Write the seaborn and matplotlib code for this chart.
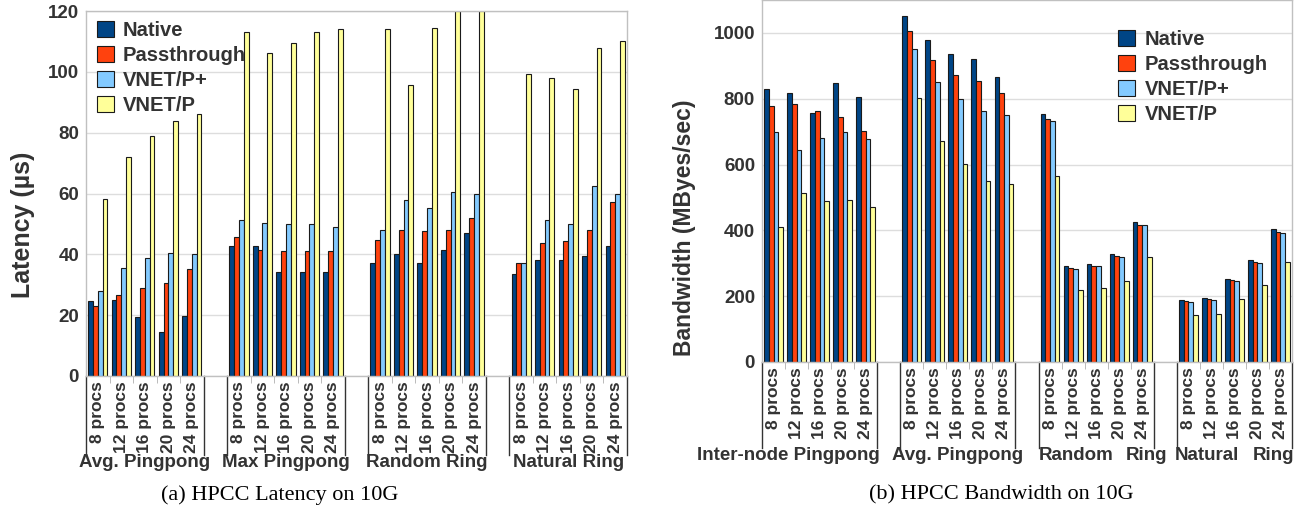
import matplotlib
matplotlib.use("Agg")
import matplotlib.pyplot as plt
import matplotlib.transforms as mtransforms
import seaborn as sns
import pandas as pd

series = ["Native", "Passthrough", "VNET/P+", "VNET/P"]
colors = ["#004586", "#ff420e", "#83caff", "#ffff99"]
procs = ["8 procs", "12 procs", "16 procs", "20 procs", "24 procs"]

# (a) latency, us -- groups of 5 (8..24 procs)
lat_groups = ["Avg. Pingpong", "Max Pingpong", "Random Ring", "Natural Ring"]
lat_native = [24.7, 25.0, 19.3, 14.5, 19.7,
              42.6, 42.6, 34.1, 34.1, 34.1,
              37.0, 40.2, 37.0, 41.5, 47.0,
              33.4, 38.1, 38.1, 39.3, 42.7]
lat_pass = [23.0, 26.7, 28.8, 30.5, 35.1,
            45.6, 41.3, 41.2, 41.2, 41.2,
            44.8, 47.9, 47.7, 47.9, 52.0,
            37.0, 43.6, 44.4, 48.0, 57.2]
lat_vnetp_plus = [28.0, 35.5, 38.7, 40.3, 40.0,
                  51.2, 50.2, 49.9, 50.0, 49.1,
                  48.1, 57.7, 55.1, 60.5, 60.0,
                  37.0, 51.4, 49.9, 62.6, 60.0]
lat_vnetp = [58.2, 72.1, 78.8, 84.0, 86.0,
             113.1, 106.1, 109.4, 113.1, 114.1,
             114.0, 95.8, 114.3, 120.0, 120.0,
             99.4, 97.9, 94.2, 108.0, 110.1]

# (b) bandwidth, MB/s
bw_groups = ["Inter-node Pingpong", "Avg. Pingpong", "Random Ring", "Natural Ring"]
bw_native = [830, 816, 757, 849, 804,
             1052, 977, 937, 920, 866,
             753, 291, 299, 327, 426,
             188, 195, 252, 310, 403]
bw_pass = [777, 783, 763, 743, 703,
           1006, 917, 873, 853, 817,
           739, 286, 292, 321, 417,
           184, 190, 248, 303, 396]
bw_vnetp_plus = [700, 645, 680, 698, 677,
                 950, 850, 800, 762, 750,
                 733, 283, 291, 319, 415,
                 182, 188, 245, 300, 392]
bw_vnetp = [410, 513, 488, 493, 470,
            803, 671, 603, 550, 540,
            564, 218, 224, 245, 319,
            142, 147, 190, 233, 303]

TXT = "#333333"
plt.rcParams["font.family"] = ["Liberation Sans", "DejaVu Sans"]
plt.rcParams["font.weight"] = "bold"


def build(values):
    rows = []
    for s, vals in zip(series, values):
        for k, v in enumerate(vals):
            g, p = divmod(k, 5)
            rows.append({"pos": g * 6 + p, "series": s, "value": v})
    return pd.DataFrame(rows)


def draw(ax, df, groups, ymax, ystep, ylabel, line_depth):
    sns.barplot(data=df, x="pos", y="value", hue="series", hue_order=series,
                palette=colors, native_scale=True, width=0.82, errorbar=None,
                edgecolor="#1a1a1a", linewidth=0.8, saturation=1, ax=ax)
    nslots = len(groups) * 6 - 1
    ax.set_xlim(-0.5, nslots - 0.5)
    ax.set_ylim(0, ymax)
    ax.set_yticks(range(0, int(ymax) + 1, ystep))
    ax.yaxis.grid(True, color="#dddddd", linewidth=1)
    ax.set_axisbelow(True)
    for sp in ax.spines.values():
        sp.set_color("#c0c0c0")
        sp.set_linewidth(1)

    pos = [g * 6 + p for g in range(len(groups)) for p in range(5)]
    ax.set_xticks(pos, procs * len(groups), rotation=90, fontsize=12.5,
                  color=TXT, fontweight="bold")
    ax.set_xticks([i - 0.5 for i in range(nslots + 1)], minor=True)
    ax.tick_params(axis="x", which="major", length=0, pad=4)
    ax.tick_params(axis="x", which="minor", length=5, color="#b0b0b0")
    ax.tick_params(axis="y", length=0, pad=5, labelsize=13.5, labelcolor=TXT)
    for t in ax.get_yticklabels():
        t.set_fontweight("bold")
    ax.set_xlabel("")
    ax.set_ylabel(ylabel, fontsize=18 if ymax < 200 else 16.5,
                  color=TXT, fontweight="bold")

    trans = mtransforms.blended_transform_factory(ax.transData, ax.transAxes)
    for g in range(len(groups)):
        for edge in (g * 6 - 0.5, g * 6 + 4.5):
            ax.plot([edge, edge], [0, -line_depth], color="#333333",
                    linewidth=1, transform=trans, clip_on=False)

    handles, labels = ax.get_legend_handles_labels()
    return trans, handles, labels


fig = plt.figure(figsize=(13.07, 5.16), dpi=100)
ax1 = fig.add_axes([86 / 1307, 1 - 376 / 516, 541 / 1307, 365 / 516])
ax2 = fig.add_axes([762 / 1307, 1 - 362 / 516, 530 / 1307, 362 / 516])

trans1, h1, l1 = draw(ax1, build([lat_native, lat_pass, lat_vnetp_plus, lat_vnetp]),
                      lat_groups, 120, 20, "Latency (µs)", 0.216)
for g, name in enumerate(lat_groups):
    ax1.text(g * 6 + 2, -0.236, name, transform=trans1, ha="center",
             va="center", fontsize=13.5, color=TXT, fontweight="bold")
ax1.yaxis.set_label_coords(-0.095, 0.414)
ax1.legend(h1, l1, loc="upper left", bbox_to_anchor=(0.005, 0.995),
           frameon=False, fontsize=14.5, handlelength=0.85, handleheight=0.85,
           handletextpad=0.45, labelspacing=0.3, labelcolor=TXT,
           borderaxespad=0)

trans2, h2, l2 = draw(ax2, build([bw_native, bw_pass, bw_vnetp_plus, bw_vnetp]),
                      bw_groups, 1100, 200, "Bandwidth (MByes/sec)", 0.238)
gl = dict(transform=trans2, va="center", fontsize=13.5, color=TXT,
          fontweight="bold")
ax2.text(4.6, -0.257, "Inter-node Pingpong", ha="right", **gl)
ax2.text(8, -0.257, "Avg. Pingpong", ha="center", **gl)
ax2.text(11.5, -0.257, "Random", ha="left", **gl)
ax2.text(17.1, -0.257, "Ring", ha="right", **gl)
ax2.text(17.4, -0.257, "Natural", ha="left", **gl)
ax2.text(22.6, -0.257, "Ring", ha="right", **gl)
ax2.yaxis.set_label_coords(-0.125, 0.37)
ax2.legend(h2, l2, loc="upper left", bbox_to_anchor=(0.657, 0.94),
           frameon=False, fontsize=14.5, handlelength=0.85, handleheight=0.85,
           handletextpad=0.45, labelspacing=0.3, labelcolor=TXT,
           borderaxespad=0)

fig.text(280 / 1307, 1 - 495 / 516, "(a) HPCC Latency on 10G", ha="center",
         va="center", fontsize=16, family="Liberation Serif",
         fontweight="normal", color="black")
fig.text(1001 / 1307, 1 - 495 / 516, "(b) HPCC Bandwidth on 10G", ha="center",
         va="center", fontsize=16, family="Liberation Serif",
         fontweight="normal", color="black")

fig.savefig("out.png", dpi=100)
